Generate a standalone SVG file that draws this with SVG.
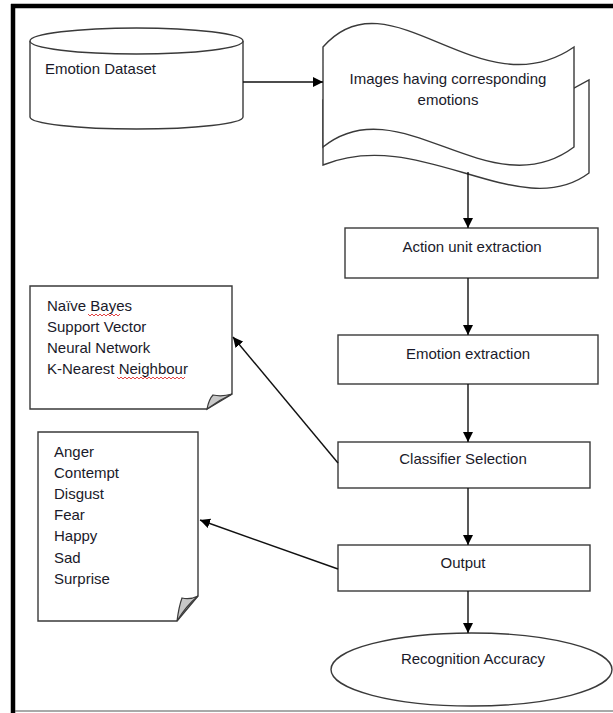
<svg xmlns="http://www.w3.org/2000/svg" width="613" height="713" viewBox="0 0 613 713">
<style>
  .shape { fill: #ffffff; stroke: #3a3a3a; stroke-width: 1.4; }
  .fold { fill: #c8c8c8; stroke: #3a3a3a; stroke-width: 1.2; }
  .lbl { font-family: "Liberation Sans", Arial, sans-serif; font-size: 15px; fill: #1a1a2a; }
  .mid { text-anchor: middle; }
  .conn { stroke: #111111; stroke-width: 1.4; fill: none; }
  .sq { stroke: #e03030; stroke-width: 0.9; fill: none; }
</style>
<defs>
  <marker id="arr" viewBox="0 0 10 10" refX="10" refY="5" markerWidth="10" markerHeight="10" markerUnits="userSpaceOnUse" orient="auto">
    <path d="M0,0 L10,5 L0,10 Z" fill="#000000"/>
  </marker>
</defs>
<rect x="0" y="0" width="613" height="713" fill="#ffffff"/>
<!-- frame -->
<g id="frame">
  <line x1="11" y1="6" x2="613" y2="6" stroke="#000" stroke-width="4.5"/>
  <line x1="13" y1="4" x2="13" y2="713" stroke="#000" stroke-width="4.5"/>
  <line x1="15" y1="711" x2="613" y2="711" stroke="#555" stroke-width="1.2"/>
</g>

<g id="dataset">
  <path class="shape" d="M30,41 L30,117 A106.5,12 0 0 0 243,117 L243,41 A106.5,13 0 0 0 30,41 Z"/>
  <path class="shape" d="M30,41 A106.5,13 0 0 0 243,41" fill="none"/>
  <text class="lbl" x="45" y="74">Emotion Dataset</text>
</g>

<g id="images">
  <path class="shape" d="M323,147 L323,100 L574,88 L589,80 L589,173 C520,225 420,125 323,165 Z"/>
  <path class="shape" d="M323,47 C390,-30 480,112 574,47 L574,147 C490,210 400,85 323,147 Z"/>
  <text class="lbl mid" x="448" y="84">Images having corresponding</text>
  <text class="lbl mid" x="448" y="105">emotions</text>
</g>

<g id="action">
  <rect class="shape" x="345" y="228" width="253" height="50"/>
  <text class="lbl mid" x="472" y="252">Action unit extraction</text>
</g>

<g id="emotion">
  <rect class="shape" x="338" y="335" width="260" height="49"/>
  <text class="lbl mid" x="468" y="359">Emotion extraction</text>
</g>

<g id="classifier">
  <rect class="shape" x="338" y="442" width="252" height="46"/>
  <text class="lbl mid" x="463" y="464">Classifier Selection</text>
</g>

<g id="output">
  <rect class="shape" x="338" y="545" width="252" height="46"/>
  <text class="lbl mid" x="463" y="568">Output</text>
</g>

<g id="accuracy">
  <ellipse class="shape" cx="471.5" cy="669.5" rx="140.5" ry="36.5"/>
  <text class="lbl mid" x="473" y="664">Recognition Accuracy</text>
</g>

<g id="classifiers-note">
  <path class="shape" d="M30,286 L232,286 L232,394 L207,409 L30,409 Z"/>
  <path class="fold" d="M207,409 Q209,399 213,395 Q222,397 232,394 Q219,400 207,409 Z"/>
  <text class="lbl" x="47" y="311">Naïve Bayes</text>
  <text class="lbl" x="47" y="332">Support Vector</text>
  <text class="lbl" x="47" y="353">Neural Network</text>
  <text class="lbl" x="47" y="374">K-Nearest Neighbour</text>
  <path class="sq" d="M88,314 l2,2 l2,-2 l2,2 l2,-2 l2,2 l2,-2 l2,2 l2,-2 l2,2 l2,-2 l2,2 l2,-2 l2,2 l2,-2 l2,2 l2,-2"/>
  <path class="sq" d="M117,377 l2,2 l2,-2 l2,2 l2,-2 l2,2 l2,-2 l2,2 l2,-2 l2,2 l2,-2 l2,2 l2,-2 l2,2 l2,-2 l2,2 l2,-2 l2,2 l2,-2 l2,2 l2,-2 l2,2 l2,-2 l2,2 l2,-2 l2,2 l2,-2 l2,2 l2,-2 l2,2 l2,-2 l2,2 l2,-2 l2,2 l2,-2"/>
</g>

<g id="emotions-note">
  <path class="shape" d="M38,432 L198,432 L198,596 L177,621 L38,621 Z"/>
  <path class="fold" d="M177,621 Q179,606 182,598 Q190,600 198,596 Q186,606 177,621 Z"/>
  <text class="lbl" x="54" y="457">Anger</text>
  <text class="lbl" x="54" y="478">Contempt</text>
  <text class="lbl" x="54" y="499">Disgust</text>
  <text class="lbl" x="54" y="520">Fear</text>
  <text class="lbl" x="54" y="541">Happy</text>
  <text class="lbl" x="54" y="563">Sad</text>
  <text class="lbl" x="54" y="584">Surprise</text>
</g>

<g id="connectors">
  <line class="conn" x1="243" y1="82" x2="323" y2="82" marker-end="url(#arr)"/>
  <line class="conn" x1="468" y1="172" x2="468" y2="228" marker-end="url(#arr)"/>
  <line class="conn" x1="468" y1="278" x2="468" y2="335" marker-end="url(#arr)"/>
  <line class="conn" x1="468" y1="384" x2="468" y2="442" marker-end="url(#arr)"/>
  <line class="conn" x1="468" y1="488" x2="468" y2="545" marker-end="url(#arr)"/>
  <line class="conn" x1="468" y1="591" x2="468" y2="633" marker-end="url(#arr)"/>
  <line class="conn" x1="338" y1="463" x2="233" y2="337" marker-end="url(#arr)"/>
  <line class="conn" x1="338" y1="569" x2="200" y2="520" marker-end="url(#arr)"/>
</g>
</svg>
